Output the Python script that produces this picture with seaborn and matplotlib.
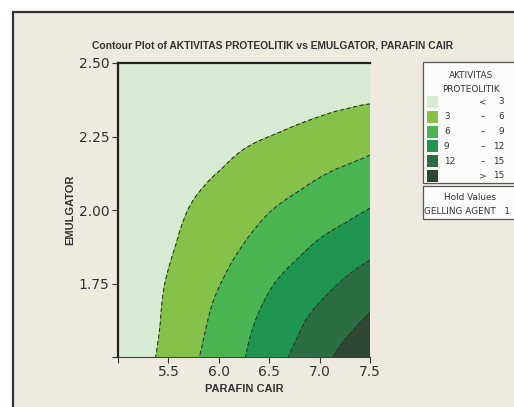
import numpy as np
import matplotlib
matplotlib.use('Agg')
import matplotlib.pyplot as plt
import matplotlib.tri as mtri
from matplotlib.patches import Rectangle
import seaborn as sns

# grid (PARAFIN CAIR across, EMULGATOR down the rows)
parafin = [5.0, 5.25, 5.5, 5.75, 6.0, 6.25, 6.5, 6.75, 7.0, 7.25, 7.5]
emulgator = [1.5, 1.625, 1.75, 1.875, 2.0, 2.125, 2.25, 2.375, 2.5]
aktivitas = [
    [0.3, 2.1, 3.9, 5.6, 7.3, 8.9, 10.7, 12.4, 14.1, 15.8, 17.5],
    [0.3, 1.9, 3.5, 5.1, 6.7, 8.3, 9.8, 11.3, 12.8, 14.1, 15.4],
    [0.4, 1.8, 3.2, 4.6, 5.9, 7.3, 8.7, 10.0, 11.1, 12.3, 13.4],
    [0.4, 1.5, 2.7, 3.8, 5.0, 6.1, 7.2, 8.3, 9.4, 10.3, 11.2],
    [0.5, 1.4, 2.3, 3.2, 4.1, 5.0, 5.9, 6.7, 7.5, 8.3, 9.1],
    [0.3, 1.0, 1.7, 2.4, 3.05, 3.7, 4.4, 5.1, 5.8, 6.4, 7.0],
    [0.3, 0.7, 1.2, 1.6, 2.1, 2.6, 3.0, 3.5, 4.0, 4.4, 4.9],
    [0.2, 0.4, 0.6, 0.8, 1.0, 1.3, 1.6, 1.9, 2.3, 2.6, 2.8],
    [0.1, 0.2, 0.3, 0.5, 0.6, 0.8, 1.0, 1.2, 1.4, 1.6, 1.8],
]

levels = [3, 6, 9, 12, 15]
band_colors = ['#D7EAD3', '#86C24A', '#4BB452', '#1F9650', '#2B6E44', '#2F4634']
legend_low = ['', '3', '6', '9', '12', '']
legend_sign = ['<', '\u2013', '\u2013', '\u2013', '\u2013', '>']
legend_high = ['3', '6', '9', '12', '15', '15']

sns.set_theme(style="white")
plt.rcParams['font.family'] = ['DejaVu Sans']
plt.rcParams['lines.dashed_pattern'] = [3.5, 2.5]

W, H = 514, 407
fig = plt.figure(figsize=(W / 100, H / 100), dpi=100)
fig.patch.set_facecolor('white')


def fx(x):
    return x / W


def fy(y):
    return 1 - y / H


# beige panel with frame on left/top
fig.patches.append(Rectangle((fx(13), fy(430)), 1.2, (430 - 12) / H,
                             transform=fig.transFigure, facecolor='#EEEAE0',
                             edgecolor='#333333', linewidth=1.6, zorder=-5))

ax = fig.add_axes([fx(118), fy(357), (370 - 118) / W, (357 - 63) / H])
ax.set_zorder(3)

X, Y = np.meshgrid(parafin, emulgator)
Z = np.array(aktivitas)
tri = mtri.Triangulation(X.ravel(), Y.ravel())
refiner = mtri.UniformTriRefiner(tri)
tri_f, z_f = refiner.refine_field(Z.ravel(), subdiv=4)

ax.tricontourf(tri_f, z_f, levels=[-100] + levels + [100], colors=sns.color_palette(band_colors))
ax.tricontour(tri_f, z_f, levels=levels, colors='#2A3A2A', linewidths=0.8, linestyles='dashed')

ax.set_xlim(5.0, 7.5)
ax.set_ylim(1.5, 2.5)
ax.set_xticks([5.0, 5.5, 6.0, 6.5, 7.0, 7.5], labels=['', '5.5', '6.0', '6.5', '7.0', '7.5'])
ax.set_yticks([1.5, 1.75, 2.0, 2.25, 2.5], labels=['', '1.75', '2.00', '2.25', '2.50'])
ax.tick_params(direction='out', length=4, width=0.8, color='#333333', labelsize=10,
               labelcolor='#333333', pad=2, left=True, bottom=True)
for side in ['left', 'top']:
    ax.spines[side].set_color('#222222')
    ax.spines[side].set_linewidth(1.6)
ax.spines['right'].set_visible(False)
ax.spines['bottom'].set_color('#444444')
ax.spines['bottom'].set_linewidth(0.8)

bold_font = dict(family='Liberation Sans', fontweight='bold', color='#333333')
ax.set_xlabel('PARAFIN CAIR', fontsize=8, labelpad=3, **bold_font)
ax.set_ylabel('EMULGATOR', fontsize=8, labelpad=3, **bold_font)

fig.text(fx(272), fy(45), 'Contour Plot of AKTIVITAS PROTEOLITIK vs EMULGATOR, PARAFIN CAIR',
         ha='center', va='center', fontsize=7.4, **bold_font)

# legend box
fig.patches.append(Rectangle((fx(423), fy(183)), 1, (183 - 62) / H, transform=fig.transFigure,
                             facecolor='#FCFCFB', edgecolor='#555555', linewidth=0.9, zorder=1))
fig.patches.append(Rectangle((fx(423), fy(219)), 1, (219 - 186) / H, transform=fig.transFigure,
                             facecolor='#FCFCFB', edgecolor='#555555', linewidth=0.9, zorder=1))
legend_font = dict(fontsize=6.4, color='#333333', va='center')
fig.text(fx(471), fy(75), 'AKTIVITAS', ha='center', **legend_font)
fig.text(fx(471), fy(89), 'PROTEOLITIK', ha='center', **legend_font)
for i, c in enumerate(band_colors):
    yc = 102 + i * 14.8
    fig.patches.append(Rectangle((fx(427), fy(yc + 6)), 11 / W, 12 / H, transform=fig.transFigure,
                                 facecolor=c, edgecolor='none', zorder=2))
    fig.text(fx(444), fy(yc), legend_low[i], ha='left', **legend_font)
    fig.text(fx(483), fy(yc), legend_sign[i], ha='center', **legend_font)
    fig.text(fx(504), fy(yc), legend_high[i], ha='right', **legend_font)
fig.text(fx(470), fy(198), 'Hold Values', ha='center', **legend_font)
fig.text(fx(424), fy(212), 'GELLING AGENT   1', ha='left', **legend_font)

fig.savefig('out.png', dpi=100, facecolor=fig.get_facecolor())
